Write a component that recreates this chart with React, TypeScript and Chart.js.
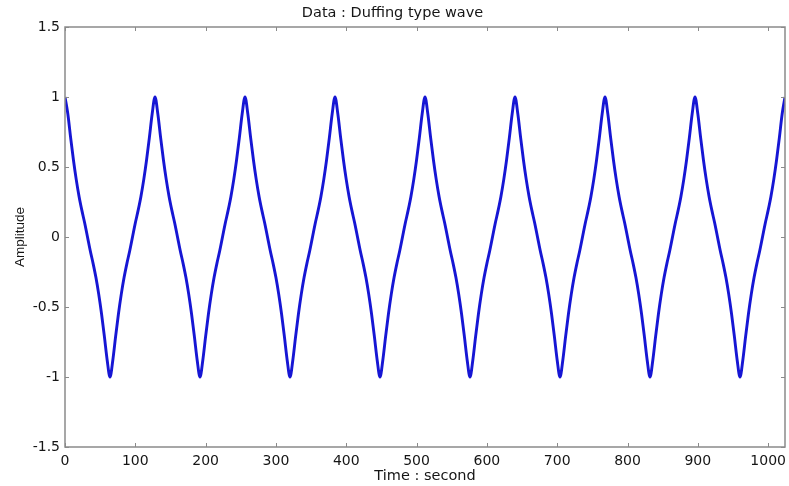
import React, { useEffect, useRef } from "react";
import { Chart, registerables } from "chart.js";

Chart.register(...registerables);

const titleText = "Data : Duffing type wave";
const xAxisTitle = "Time : second";
const yAxisTitle = "Amplitude";

// sample times: every 4 seconds from 0 to 1024
const timeStep = 4;
// amplitude, one row per period (128 s)
const amplitude: number[] = [
  1, 0.88, 0.71, 0.55, 0.41, 0.29, 0.19, 0.1, 0, -0.1, -0.19, -0.29, -0.41, -0.55, -0.71, -0.88,
  -1, -0.88, -0.71, -0.55, -0.41, -0.29, -0.19, -0.1, 0, 0.1, 0.19, 0.29, 0.41, 0.55, 0.71, 0.88,
  1, 0.88, 0.71, 0.55, 0.41, 0.29, 0.19, 0.1, 0, -0.1, -0.19, -0.29, -0.41, -0.55, -0.71, -0.88,
  -1, -0.88, -0.71, -0.55, -0.41, -0.29, -0.19, -0.1, 0, 0.1, 0.19, 0.29, 0.41, 0.55, 0.71, 0.88,
  1, 0.88, 0.71, 0.55, 0.41, 0.29, 0.19, 0.1, 0, -0.1, -0.19, -0.29, -0.41, -0.55, -0.71, -0.88,
  -1, -0.88, -0.71, -0.55, -0.41, -0.29, -0.19, -0.1, 0, 0.1, 0.19, 0.29, 0.41, 0.55, 0.71, 0.88,
  1, 0.88, 0.71, 0.55, 0.41, 0.29, 0.19, 0.1, 0, -0.1, -0.19, -0.29, -0.41, -0.55, -0.71, -0.88,
  -1, -0.88, -0.71, -0.55, -0.41, -0.29, -0.19, -0.1, 0, 0.1, 0.19, 0.29, 0.41, 0.55, 0.71, 0.88,
  1, 0.88, 0.71, 0.55, 0.41, 0.29, 0.19, 0.1, 0, -0.1, -0.19, -0.29, -0.41, -0.55, -0.71, -0.88,
  -1, -0.88, -0.71, -0.55, -0.41, -0.29, -0.19, -0.1, 0, 0.1, 0.19, 0.29, 0.41, 0.55, 0.71, 0.88,
  1, 0.88, 0.71, 0.55, 0.41, 0.29, 0.19, 0.1, 0, -0.1, -0.19, -0.29, -0.41, -0.55, -0.71, -0.88,
  -1, -0.88, -0.71, -0.55, -0.41, -0.29, -0.19, -0.1, 0, 0.1, 0.19, 0.29, 0.41, 0.55, 0.71, 0.88,
  1, 0.88, 0.71, 0.55, 0.41, 0.29, 0.19, 0.1, 0, -0.1, -0.19, -0.29, -0.41, -0.55, -0.71, -0.88,
  -1, -0.88, -0.71, -0.55, -0.41, -0.29, -0.19, -0.1, 0, 0.1, 0.19, 0.29, 0.41, 0.55, 0.71, 0.88,
  1, 0.88, 0.71, 0.55, 0.41, 0.29, 0.19, 0.1, 0, -0.1, -0.19, -0.29, -0.41, -0.55, -0.71, -0.88,
  -1, -0.88, -0.71, -0.55, -0.41, -0.29, -0.19, -0.1, 0, 0.1, 0.19, 0.29, 0.41, 0.55, 0.71, 0.88,
  1,
];

const xMin = 0;
const xMax = 1024;
const xTickStep = 100;
const yMin = -1.5;
const yMax = 1.5;
const yTickStep = 0.5;

const FONT = "'DejaVu Sans', 'Liberation Sans', Arial, sans-serif";
const FONT_Y = "'Liberation Sans', Arial, Helvetica, sans-serif";
const AXIS_COLOR = "#8a8a8a";
const TEXT_COLOR = "#151515";

const boxPlugin = {
  id: "matlabBox",
  afterDraw(chart: any) {
    const { ctx, chartArea } = chart;
    const { left, right, top, bottom } = chartArea;
    const xs = chart.scales.x;
    const ys = chart.scales.y;
    ctx.save();
    ctx.strokeStyle = AXIS_COLOR;
    ctx.lineWidth = 1.5;
    ctx.beginPath();
    ctx.rect(left, top, right - left, bottom - top);
    ctx.stroke();
    ctx.lineWidth = 1;
    const tl = 4;
    ctx.beginPath();
    xs.ticks.forEach((t: any) => {
      const px = Math.round(xs.getPixelForValue(t.value)) + 0.5;
      ctx.moveTo(px, bottom);
      ctx.lineTo(px, bottom - tl);
      ctx.moveTo(px, top);
      ctx.lineTo(px, top + tl);
    });
    ys.ticks.forEach((t: any) => {
      const py = Math.round(ys.getPixelForValue(t.value)) + 0.5;
      ctx.moveTo(left, py);
      ctx.lineTo(left + tl, py);
      ctx.moveTo(right, py);
      ctx.lineTo(right - tl, py);
    });
    ctx.stroke();
    ctx.restore();
  },
};

export default function App() {
  const canvasRef = useRef<HTMLCanvasElement | null>(null);

  useEffect(() => {
    document.body.style.margin = "0";
    const canvas = canvasRef.current;
    if (!canvas) return;
    const points = amplitude.map((v, i) => ({ x: i * timeStep, y: v }));
    const chart = new Chart(canvas, {
      type: "line",
      data: {
        datasets: [
          {
            data: points,
            borderColor: "#1616d4",
            borderWidth: 2.9,
            pointRadius: 0,
            fill: false,
            cubicInterpolationMode: "monotone",
          },
        ],
      },
      plugins: [boxPlugin],
      options: {
        animation: false,
        responsive: false,
        maintainAspectRatio: false,
        layout: { padding: { left: 0, right: 4, top: 0, bottom: 0 } },
        plugins: {
          legend: { display: false },
          tooltip: { enabled: false },
          title: {
            display: true,
            text: titleText,
            color: TEXT_COLOR,
            font: { family: FONT, size: 14.5, weight: "normal" },
            padding: { top: 5, bottom: 4.6 },
          },
        },
        scales: {
          x: {
            type: "linear",
            min: xMin,
            max: xMax,
            afterFit(scale: any) {
              scale.height = 39;
              scale.paddingRight = 0;
            },
            ticks: {
              stepSize: xTickStep,
              includeBounds: false,
              color: TEXT_COLOR,
              padding: 6,
              maxRotation: 0,
              font: { family: FONT, size: 14 },
              callback: (v: any) => String(v),
            },
            grid: { display: false, drawTicks: false },
            border: { display: false },
            title: {
              display: true,
              text: xAxisTitle,
              color: TEXT_COLOR,
              font: { family: FONT, size: 14.5 },
              padding: { top: 0, bottom: 1.5 },
            },
          },
          y: {
            type: "linear",
            min: yMin,
            max: yMax,
            afterFit(scale: any) {
              scale.width = 65;
            },
            ticks: {
              stepSize: yTickStep,
              color: TEXT_COLOR,
              padding: 5,
              font: { family: FONT, size: 14 },
              callback: (v: any) => String(v),
            },
            grid: { display: false, drawTicks: false },
            border: { display: false },
            title: {
              display: true,
              text: yAxisTitle,
              color: TEXT_COLOR,
              font: { family: FONT_Y, size: 13.5 },
              padding: { top: 12, bottom: 0 },
            },
          },
        },
      },
    });
    return () => chart.destroy();
  }, []);

  return (
    <div style={{ width: 789, height: 486, background: "#fff" }}>
      <canvas ref={canvasRef} width={789} height={486} style={{ display: "block" }} />
    </div>
  );
}
